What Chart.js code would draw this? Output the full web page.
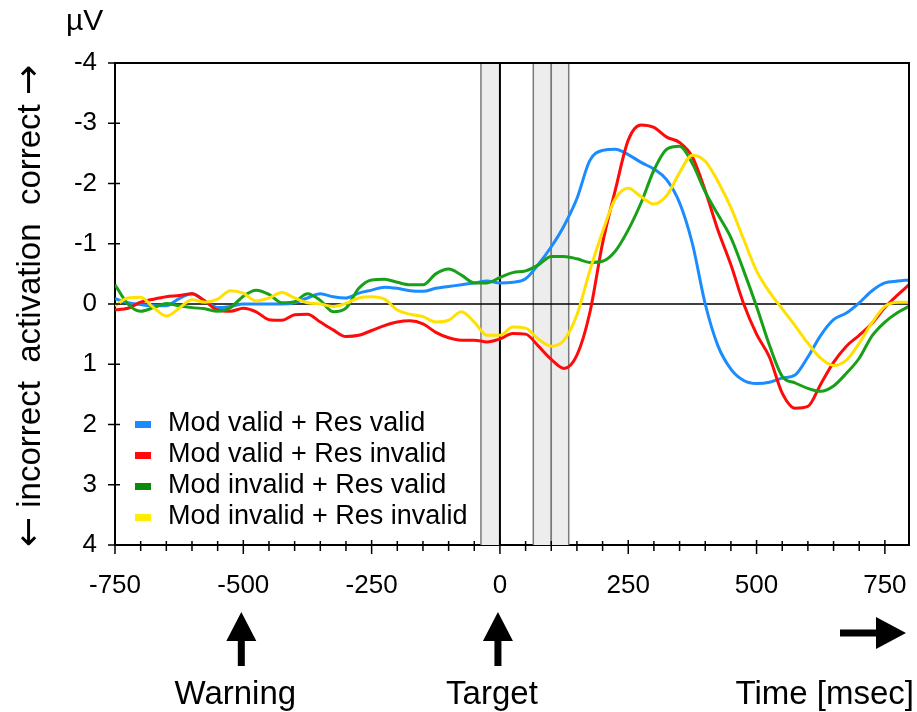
<!DOCTYPE html>
<html>
<head>
<meta charset="utf-8">
<script src="https://cdn.jsdelivr.net/npm/chart.js@4"></script>
<style>
  html, body { margin:0; padding:0; background:#fff; }
  #wrap { position:relative; width:917px; height:712px; }
</style>
</head>
<body>
<div id="wrap"><canvas id="erp" width="917" height="712"></canvas></div>
<script>
// ── Data (µV, negative = up) ───────────────────────────────────
const times = [-750,-725,-700,-675,-650,-625,-600,-575,-550,-525,-500,-475,-450,-425,-400,-375,-350,-325,-300,-275,
  -250,-225,-200,-175,-150,-125,-100,-75,-50,-25,0,25,50,75,100,125,150,175,200,225,250,275,300,325,350,375,400,
  425,450,475,500,525,550,575,600,625,650,675,700,725,750,775,797];

const modValidResValid = [-0.09,-0.02,0.01,0.03,0.03,-0.09,-0.17,-0.05,0.06,0.04,0.0,0.0,0.0,0.0,-0.02,-0.1,-0.17,-0.12,-0.1,-0.18,
  -0.23,-0.28,-0.26,-0.22,-0.21,-0.26,-0.29,-0.32,-0.35,-0.38,-0.35,-0.36,-0.42,-0.66,-0.95,-1.3,-1.75,-2.38,-2.55,-2.57,-2.48,-2.35,-2.24,-2.06,-1.68,-1.0,0.0,
  0.7,1.08,1.27,1.32,1.3,1.23,1.18,0.88,0.52,0.26,0.15,-0.02,-0.22,-0.35,-0.38,-0.4];

const modValidResInvalid = [0.1,0.07,-0.03,-0.08,-0.12,-0.14,-0.17,-0.05,0.1,0.12,0.07,0.13,0.26,0.27,0.18,0.17,0.3,0.43,0.54,0.52,
  0.44,0.36,0.3,0.28,0.33,0.47,0.56,0.6,0.6,0.63,0.58,0.49,0.5,0.7,0.92,1.07,0.85,0.15,-1.01,-1.9,-2.72,-2.97,-2.93,-2.77,-2.68,-2.44,-1.88,
  -1.22,-0.65,0.0,0.5,0.88,1.48,1.73,1.7,1.33,0.97,0.7,0.52,0.32,0.06,-0.15,-0.32];

const modInvalidResValid = [-0.32,0.0,0.12,0.06,-0.01,0.03,0.06,0.08,0.12,0.06,-0.13,-0.23,-0.16,-0.02,-0.04,-0.17,-0.06,0.13,0.07,-0.26,
  -0.4,-0.41,-0.36,-0.32,-0.32,-0.5,-0.58,-0.48,-0.35,-0.35,-0.44,-0.52,-0.55,-0.65,-0.79,-0.79,-0.75,-0.69,-0.71,-0.88,-1.23,-1.68,-2.22,-2.57,-2.62,-2.33,-1.86,
  -1.48,-1.1,-0.55,0.04,0.68,1.2,1.31,1.4,1.45,1.36,1.15,0.9,0.53,0.3,0.14,0.04];

const modInvalidResInvalid = [0.03,-0.1,-0.11,0.06,0.2,0.07,-0.07,-0.03,-0.08,-0.22,-0.18,-0.05,-0.1,-0.19,-0.1,-0.02,0.0,0.04,-0.01,-0.1,
  -0.12,-0.08,0.1,0.17,0.21,0.3,0.27,0.13,0.3,0.52,0.52,0.38,0.4,0.58,0.7,0.6,0.18,-0.55,-1.2,-1.75,-1.92,-1.78,-1.66,-1.8,-2.18,-2.47,-2.37,
  -2.03,-1.6,-1.07,-0.55,-0.2,0.08,0.36,0.65,0.9,1.02,0.93,0.65,0.31,0.04,-0.03,-0.03];

const seriesNames  = ['Mod valid + Res valid','Mod valid + Res invalid','Mod invalid + Res valid','Mod invalid + Res invalid'];
const seriesColors = ['#1a8cff','#ff0a0a','#18a018','#ffe000'];
const legendColors = ['#1a8cff','#ff0a0a','#0a8a0a','#ffee00'];

const xMin = -750, xMax = 797, xMinorStep = 50;
const xLabelTicks = [-750,-500,-250,0,250,500,750];
const yMin = -4, yMax = 4;
const bandEdges = [[-37,0],[65,100],[100,134]];
const markers = [{ t:-500, label:'Warning' }, { t:0, label:'Target' }];
const yTitleParts = ['←', ' incorrect  activation  correct ', '→'];

const FONT = '"Liberation Sans", Arial, sans-serif';

// ── Decorations ────────────────────────────────────────────────
const frame = {
  id:'frame',
  beforeDatasetsDraw(chart) {
    const { ctx, chartArea:a, scales:{ x, y } } = chart;
    ctx.save();
    bandEdges.forEach(([t0, t1]) => {
      const x0 = x.getPixelForValue(t0), x1 = x.getPixelForValue(t1);
      ctx.fillStyle = '#ededed';
      ctx.fillRect(x0, a.top, x1 - x0, a.bottom - a.top);
    });
    ctx.strokeStyle = '#7a7a7a'; ctx.lineWidth = 1.5;
    bandEdges.flat().forEach(t => {
      if (t === 0) return;
      const px = x.getPixelForValue(t);
      ctx.beginPath(); ctx.moveTo(px, a.top); ctx.lineTo(px, a.bottom); ctx.stroke();
    });
    ctx.strokeStyle = '#000'; ctx.lineWidth = 2;
    const x0 = x.getPixelForValue(0), y0 = y.getPixelForValue(0);
    ctx.beginPath(); ctx.moveTo(x0, a.top); ctx.lineTo(x0, a.bottom); ctx.stroke();
    ctx.lineWidth = 1.5;
    ctx.beginPath(); ctx.moveTo(a.left, y0); ctx.lineTo(a.right, y0); ctx.stroke();
    ctx.restore();
  },
  afterDatasetsDraw(chart) {
    const { ctx, chartArea:a, scales:{ x, y } } = chart;
    ctx.save();
    // box
    ctx.strokeStyle = '#000'; ctx.lineWidth = 2;
    ctx.beginPath(); ctx.moveTo(a.left, a.top); ctx.lineTo(a.right, a.top); ctx.lineTo(a.right, a.bottom); ctx.stroke();
    // ticks
    ctx.lineWidth = 1.5;
    for (let t = xMin; t <= xMax; t += xMinorStep) {
      const px = x.getPixelForValue(t), major = xLabelTicks.includes(t);
      ctx.beginPath(); ctx.moveTo(px, a.bottom - (major ? 5 : 4)); ctx.lineTo(px, a.bottom + (major ? 9 : 6)); ctx.stroke();
    }
    for (let v = yMin; v <= yMax; v++) {
      const py = y.getPixelForValue(v);
      ctx.beginPath(); ctx.moveTo(a.left - 7, py); ctx.lineTo(a.left + (v === yMin || v === yMax ? 0 : 5), py); ctx.stroke();
    }
    // legend
    ctx.font = `27px ${FONT}`; ctx.textBaseline = 'middle'; ctx.textAlign = 'left';
    seriesNames.forEach((name, i) => {
      const cy = 424 + i * 31;
      ctx.fillStyle = legendColors[i]; ctx.fillRect(135, cy - 3, 16, 7);
      ctx.fillStyle = '#000'; ctx.fillText(name, 168, cy);
    });
    // unit + axis title
    ctx.font = `30px ${FONT}`;
    ctx.fillText('µV', 66, 22);
    ctx.save();
    ctx.translate(31, (a.top + a.bottom) / 2 + 2);
    ctx.rotate(-Math.PI / 2);
    const fonts = [`36px "DejaVu Sans"`, `33px ${FONT}`, `36px "DejaVu Sans"`];
    const widths = yTitleParts.map((s, i) => { ctx.font = fonts[i]; return ctx.measureText(s).width; });
    let tx = -widths.reduce((p, w) => p + w, 0) / 2;
    yTitleParts.forEach((s, i) => { ctx.font = fonts[i]; ctx.fillText(s, tx, 0); tx += widths[i]; });
    ctx.restore();
    // event arrows
    ctx.fillStyle = '#000';
    markers.forEach(m => {
      const cx = x.getPixelForValue(m.t) - 2;
      ctx.beginPath();
      ctx.moveTo(cx, 612); ctx.lineTo(cx + 15, 641); ctx.lineTo(cx + 3.5, 641); ctx.lineTo(cx + 3.5, 666);
      ctx.lineTo(cx - 3.5, 666); ctx.lineTo(cx - 3.5, 641); ctx.lineTo(cx - 15, 641); ctx.closePath(); ctx.fill();
      ctx.font = `33px ${FONT}`; ctx.textAlign = 'center'; ctx.textBaseline = 'alphabetic';
      ctx.fillText(m.label, cx - 6, 704);
    });
    ctx.beginPath();
    ctx.moveTo(840, 629.5); ctx.lineTo(876, 629.5); ctx.lineTo(876, 617); ctx.lineTo(906, 633);
    ctx.lineTo(876, 649); ctx.lineTo(876, 636.5); ctx.lineTo(840, 636.5); ctx.closePath(); ctx.fill();
    ctx.textAlign = 'right';
    ctx.fillText('Time [msec]', 914, 704);
    ctx.restore();
  }
};

// ── Chart ──────────────────────────────────────────────────────
const series = [modValidResValid, modValidResInvalid, modInvalidResValid, modInvalidResInvalid];

new Chart(document.getElementById('erp').getContext('2d'), {
  type:'line',
  data:{
    datasets: series.map((vals, i) => ({
      label: seriesNames[i],
      data: vals.map((v, k) => ({ x: times[k], y: v })),
      borderColor: seriesColors[i], borderWidth: 3,
      pointRadius: 0, fill: false,
      cubicInterpolationMode: 'monotone',
      order: 3 - i,
    })),
  },
  options:{
    responsive:false, devicePixelRatio:1, animation:false,
    layout:{ padding:{ top:63, right:8, left:0, bottom:0 } },
    plugins:{ legend:{ display:false }, tooltip:{ enabled:false } },
    scales:{
      x:{
        type:'linear', min:xMin, max:xMax,
        afterFit: s => { s.height = 167; s.paddingLeft = 0; s.paddingRight = 0; },
        afterBuildTicks: s => { s.ticks = xLabelTicks.map(v => ({ value: v })); },
        ticks:{ color:'#000', font:{ family:FONT, size:26 }, padding:25, maxRotation:0, autoSkip:false },
        grid:{ display:false, drawTicks:false },
        border:{ display:true, color:'#000', width:2 },
      },
      y:{
        type:'linear', min:yMin, max:yMax, reverse:true,
        afterFit: s => { s.width = 115; s.paddingTop = 0; s.paddingBottom = 0; },
        ticks:{ stepSize:1, color:'#000', font:{ family:FONT, size:26 }, padding:18 },
        grid:{ display:false, drawTicks:false },
        border:{ display:true, color:'#000', width:2 },
      },
    },
  },
  plugins:[frame],
});
</script>
</body>
</html>
